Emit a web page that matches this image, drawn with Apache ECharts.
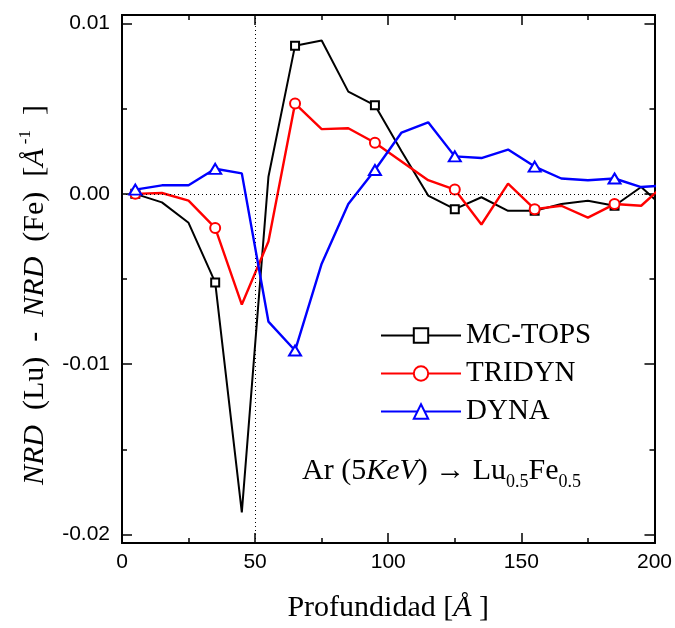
<!DOCTYPE html>
<html><head><meta charset="utf-8">
<script src="https://cdn.jsdelivr.net/npm/echarts@6/dist/echarts.min.js"></script>
<style>html,body{margin:0;padding:0;background:#fff}#c{width:675px;height:628px}</style>
</head><body><div id="c"></div>
<script>
// ---- data ----
const depth = [5,15,25,35,45,55,65,75,85,95,105,115,125,135,145,155,165,175,185,195,205];
const mcTops = [0, -0.0005, -0.0017, -0.0052, -0.0187, 0.0010, 0.0087, 0.0090, 0.0060, 0.0052, 0.0025, -0.0001, -0.0009, -0.0002, -0.0010, -0.0010, -0.0006, -0.0004, -0.0007, 0.0004, -0.0010];
const tridyn = [0, 0.00005, -0.0004, -0.0020, -0.0065, -0.0028, 0.0053, 0.0038, 0.00385, 0.0030, 0.0019, 0.0008, 0.00025, -0.0018, 0.0006, -0.0009, -0.0007, -0.0014, -0.0006, -0.0007, 0.0007];
const dyna = [0.00025, 0.0005, 0.0005, 0.00147, 0.0012, -0.0075, -0.0092, -0.0041, -0.0006, 0.0014, 0.0036, 0.0042, 0.0022, 0.0021, 0.0026, 0.0016, 0.0009, 0.0008, 0.0009, 0.0004, 0.0005];
const seriesNames = ['MC-TOPS', 'TRIDYN', 'DYNA'];
const xTicks = [0, 50, 100, 150, 200];
const yTicks = [-0.02, -0.01, 0, 0.01];
const yMinorTicks = [-0.015, -0.005, 0.005];
const refDepth = 50;
const refZero = 0;

const serif = 'Liberation Serif', sans = 'Liberation Sans';
const chart = echarts.init(document.getElementById('c'), null, {renderer: 'canvas'});

function pts(vals) {
  return vals.map((v, i) => {
    const d = {value: [depth[i], v]};
    if (i % 3 !== 0) d.symbol = 'none';
    return d;
  });
}
const axisLine = {onZero: false, lineStyle: {color: '#000', width: 2}};
function xAxisDef(pos, showLabel) {
  return {
    type: 'value', min: 0, max: 200, interval: 50, position: pos,
    axisLine: axisLine,
    axisTick: {inside: true, length: 10, lineStyle: {color: '#000', width: 1.5}},
    minorTick: {show: true, splitNumber: 2, length: 5, lineStyle: {color: '#000', width: 1.5}},
    splitLine: {show: false}, minorSplitLine: {show: false},
    axisLabel: showLabel ? {customValues: xTicks, color: '#000', fontFamily: sans, fontSize: 21, margin: 9} : {show: false}
  };
}
function yAxisDef(pos, major, showLabel) {
  return {
    type: 'value', min: -0.0205, max: 0.0105, position: pos,
    axisLine: axisLine,
    axisTick: {inside: true, length: major ? 10 : 5, customValues: major ? yTicks : yMinorTicks, lineStyle: {color: '#000', width: 1.5}},
    splitLine: {show: false},
    axisLabel: showLabel ? {customValues: yTicks, formatter: v => v.toFixed(2), color: '#000', fontFamily: sans, fontSize: 21, margin: 12} : {show: false}
  };
}
const xMain = xAxisDef('bottom', true);
xMain.name = '{n|Profundidad [}{i|Å}{n| ]}';
xMain.nameLocation = 'middle';
xMain.nameGap = 50;
xMain.nameTextStyle = {color: '#000', fontFamily: serif, fontSize: 30, rich: {
  n: {fontFamily: serif, fontSize: 30, color: '#000'},
  i: {fontFamily: serif, fontSize: 30, fontStyle: 'italic', color: '#000'}
}};
const yMain = yAxisDef('left', true, true);
yMain.name = '{i|NRD}{n|  (Lu)  -  }{i|NRD}{n|  (Fe)  [}{i|Å}{s| -1}{n|  ]}';
yMain.nameLocation = 'middle';
yMain.nameRotate = 90;
yMain.nameGap = 72;
yMain.nameTextStyle = {color: '#000', fontFamily: serif, fontSize: 30, padding: [0, 32, 0, 0], rich: {
  n: {fontFamily: serif, fontSize: 30, color: '#000', verticalAlign: 'bottom'},
  i: {fontFamily: serif, fontSize: 30, fontStyle: 'italic', color: '#000', verticalAlign: 'bottom'},
  s: {fontFamily: serif, fontSize: 17, color: '#000', verticalAlign: 'bottom', padding: [0, 0, 16, 0]}
}};

const colors = ['#000000', '#ff0000', '#0000ff'];
const symbols = ['emptyRect', 'emptyCircle', 'emptyTriangle'];
const sizes = [8, 10, [12, 10]];
const widths = [2, 2.4, 2.4];
const vals = [mcTops, tridyn, dyna];
const series = vals.map((v, k) => ({
  name: seriesNames[k], type: 'line', data: pts(v), xAxisIndex: 0, yAxisIndex: 0,
  symbol: symbols[k], symbolSize: sizes[k], showAllSymbol: true, clip: true,
  color: colors[k],
  lineStyle: {color: colors[k], width: widths[k]},
  itemStyle: {color: colors[k], borderColor: colors[k], borderWidth: 1.3},
  z: 3 + k
}));
series.unshift({
  type: 'line', data: [], xAxisIndex: 0, yAxisIndex: 0, silent: true, z: 1,
  markLine: {silent: true, symbol: ['none', 'none'], label: {show: false}, animation: false,
    lineStyle: {color: '#000', width: 1, type: [1, 3]},
    data: [{xAxis: refDepth}, {yAxis: refZero}]}
});

chart.setOption({
  animation: false,
  backgroundColor: '#fff',
  grid: {left: 122, right: 18.5, top: 15, bottom: 82, containLabel: false},
  xAxis: [xMain, xAxisDef('top', false)],
  yAxis: [yMain, yAxisDef('left', false, false), yAxisDef('right', true, false), yAxisDef('right', false, false)],
  legend: {
    data: seriesNames, orient: 'vertical', left: 380, top: 321, padding: 0,
    itemWidth: 80, itemHeight: 18, itemGap: 9,
    textStyle: {fontFamily: serif, fontSize: 29, color: '#000'}
  },
  graphic: [{
    type: 'text', left: 302, top: 456, silent: true,
    style: {
      text: '{n|Ar (5}{i|KeV}{n|) → Lu}{s|0.5}{n|Fe}{s|0.5}',
      fill: '#000',
      rich: {
        n: {fontFamily: serif, fontSize: 30, fill: '#000', verticalAlign: 'bottom', padding: [0, 0, 5, 0]},
        i: {fontFamily: serif, fontSize: 30, fontStyle: 'italic', fill: '#000', verticalAlign: 'bottom', padding: [0, 0, 5, 0]},
        s: {fontFamily: serif, fontSize: 18, fill: '#000', verticalAlign: 'bottom'}
      }
    }
  }],
  series: series
});
</script>
</body></html>
